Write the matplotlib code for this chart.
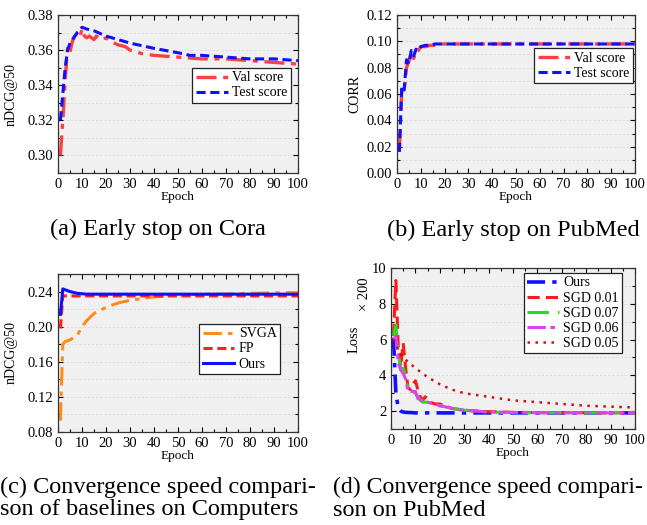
import matplotlib
matplotlib.use('Agg')
import matplotlib.pyplot as plt
from matplotlib.ticker import MultipleLocator

plt.rcParams['font.family'] = ['Liberation Serif', 'DejaVu Serif']

# (a) early stop on Cora
cora_ep = [1, 2, 3, 4, 5, 6, 7, 8, 9, 10, 11, 12, 13, 15, 16, 18, 20, 22, 25, 28, 30, 35, 40, 50, 60, 70, 80, 90, 100]
cora_val = [0.300, 0.320, 0.343, 0.362, 0.359, 0.365, 0.368, 0.369, 0.367, 0.372, 0.368, 0.367, 0.368, 0.366,
            0.368, 0.366, 0.367, 0.365, 0.363, 0.362, 0.360, 0.358, 0.357, 0.356, 0.355, 0.355, 0.354, 0.353, 0.352]
cora_test_ep = [1, 2, 3, 4, 5, 6, 7, 8, 9, 10, 12, 15, 20, 25, 30, 40, 50, 55, 60, 70, 80, 90, 100]
cora_test = [0.320, 0.335, 0.350, 0.360, 0.364, 0.366, 0.368, 0.370, 0.371, 0.373, 0.372, 0.371, 0.368,
             0.366, 0.364, 0.361, 0.3585, 0.357, 0.357, 0.356, 0.355, 0.355, 0.354]

# (b) early stop on PubMed
pub_ep = [1, 2, 3, 4, 5, 6, 7, 8, 9, 10, 12, 14, 16, 18, 20, 30, 50, 70, 100]
pub_val = [0.018, 0.062, 0.062, 0.080, 0.085, 0.091, 0.087, 0.093, 0.093, 0.096, 0.096, 0.097, 0.097,
           0.098, 0.098, 0.098, 0.098, 0.098, 0.098]
pub_test = [0.016, 0.066, 0.063, 0.086, 0.083, 0.093, 0.089, 0.094, 0.093, 0.096, 0.097, 0.097, 0.098,
            0.098, 0.098, 0.098, 0.098, 0.098, 0.098]

# (c) baselines on Computers
comp_ep = [1, 2, 3, 5, 8, 10, 12, 15, 20, 25, 30, 35, 40, 50, 60, 70, 80, 100]
svga = [0.093, 0.180, 0.183, 0.185, 0.190, 0.200, 0.207, 0.215, 0.222, 0.227, 0.230, 0.232, 0.234,
        0.236, 0.237, 0.237, 0.238, 0.239]
fp = [0.198, 0.235, 0.235, 0.235, 0.235, 0.235, 0.235, 0.235, 0.235, 0.235, 0.235, 0.235, 0.235,
      0.235, 0.235, 0.235, 0.235, 0.235]
ours_c = [0.214, 0.243, 0.242, 0.240, 0.238, 0.2375, 0.237, 0.237, 0.237, 0.237, 0.237, 0.237, 0.237,
          0.237, 0.237, 0.237, 0.237, 0.237]

# (d) loss on PubMed (x200)
ours_ep = [1, 2, 3, 4, 5, 6, 8, 10, 20, 50, 100]
ours_d = [6.1, 3.0, 2.15, 2.0, 1.95, 1.93, 1.92, 1.9, 1.9, 1.9, 1.9]
sgd_ep = [1, 2, 3, 4, 5, 6, 7, 8, 9, 10, 11, 12, 13, 14, 15, 16, 18, 20, 22, 25, 30, 40, 50, 60, 100]
sgd001 = [6.2, 9.3, 5.5, 4.5, 5.8, 4.4, 3.3, 3.2, 3.5, 3.7, 3.2, 2.8, 2.6, 2.8, 2.7, 2.5, 2.4, 2.4,
          2.3, 2.15, 2.05, 1.97, 1.93, 1.92, 1.9]
sgd007 = [6.2, 6.8, 5.2, 4.3, 4.4, 4.0, 3.2, 3.0, 3.1, 3.0, 2.8, 2.6, 2.5, 2.5, 2.5, 2.45, 2.4, 2.3,
          2.25, 2.15, 2.05, 1.95, 1.92, 1.91, 1.9]
sgd006 = [6.0, 6.2, 4.7, 4.3, 4.1, 3.8, 3.1, 3.1, 3.1, 3.1, 2.7, 2.65, 2.6, 2.55, 2.5, 2.45, 2.4, 2.3,
          2.25, 2.15, 2.05, 1.95, 1.92, 1.91, 1.9]
slow_ep = [1, 2, 3, 5, 10, 15, 20, 25, 30, 40, 50, 60, 70, 80, 90, 100]
sgd005 = [6.0, 5.8, 5.4, 5.0, 4.4, 3.9, 3.5, 3.2, 3.0, 2.8, 2.6, 2.5, 2.4, 2.3, 2.25, 2.2]

W, H = 647, 525
fig = plt.figure(figsize=(W / 100, H / 100), dpi=100)


def box(l, t, r, b):
    return [l / W, 1 - b / H, (r - l) / W, (b - t) / H]


def style(ax, ylim, ymaj, ymin):
    ax.set_facecolor('#f0f0f0')
    ax.set_xlim(0, 100)
    ax.set_ylim(*ylim)
    ax.xaxis.set_major_locator(MultipleLocator(10))
    ax.xaxis.set_minor_locator(MultipleLocator(5))
    ax.yaxis.set_major_locator(MultipleLocator(ymaj))
    ax.yaxis.set_minor_locator(MultipleLocator(ymin))
    ax.tick_params(which='both', direction='in', top=True, right=True, labelsize=10.5, width=0.8)
    ax.tick_params(which='major', length=3.5)
    ax.tick_params(which='minor', length=2)
    ax.grid(True, which='both', axis='y', color='#dadada', linestyle=(0, (3, 2)), linewidth=0.6)
    ax.set_axisbelow(True)
    for s in ax.spines.values():
        s.set_color('#333333')
        s.set_linewidth(0.9)
    ax.set_xlabel('Epoch', fontsize=9.5, labelpad=0)


def leg(ax, anchor):
    lg = ax.legend(loc='upper right', bbox_to_anchor=anchor, fontsize=10, frameon=True, fancybox=False,
                   borderaxespad=0, handlelength=2.3, labelspacing=0.15, borderpad=0.25, handletextpad=0.3)
    lg.get_frame().set_edgecolor('#222222')
    lg.get_frame().set_linewidth(0.9)
    lg.get_frame().set_alpha(1)


# (a)
ax = fig.add_axes(box(58, 15, 298, 173))
ax.plot(cora_ep, cora_val, color='#ff4040', lw=2.4, dashes=(6, 2, 1.5, 2), label='Val score')
ax.plot(cora_test_ep, cora_test, color='#1010ff', lw=2.2, dashes=(3, 1.5), label='Test score')
style(ax, (0.29, 0.38), 0.02, 0.01)
ax.yaxis.set_major_formatter(plt.FormatStrFormatter('%.2f'))
ax.set_ylabel('nDCG@50', fontsize=10)
ax.yaxis.set_label_coords(-0.17, 0.5)
leg(ax, (0.97, 0.665))

# (b)
ax = fig.add_axes(box(397, 15, 635, 173))
ax.plot(pub_ep, pub_val, color='#ff4040', lw=2.4, dashes=(6, 2, 1.5, 2), label='Val score')
ax.plot(pub_ep, pub_test, color='#1010ff', lw=2.2, dashes=(3, 1.5), label='Test score')
style(ax, (0.0, 0.12), 0.02, 0.01)
ax.yaxis.set_major_formatter(plt.FormatStrFormatter('%.2f'))
ax.set_ylabel('CORR', fontsize=10)
leg(ax, (0.99, 0.79))

# (c)
ax = fig.add_axes(box(58, 274, 298, 432))
ax.plot(comp_ep, svga, color='#ff8c1a', lw=2.2, dashes=(6, 2, 1.5, 2), label='SVGA')
ax.plot(comp_ep, fp, color='#ff2020', lw=2.2, dashes=(3, 1.5), label='FP')
ax.plot(comp_ep, ours_c, color='#1010ff', lw=2.2, label='Ours')
style(ax, (0.08, 0.26), 0.04, 0.02)
ax.yaxis.set_major_formatter(plt.FormatStrFormatter('%.2f'))
ax.set_ylabel('nDCG@50', fontsize=10)
ax.yaxis.set_label_coords(-0.17, 0.5)
leg(ax, (0.925, 0.684))

# (d)
ax = fig.add_axes(box(391, 268, 635, 429))
ax.plot(ours_ep, ours_d, color='#1010ff', lw=2.6, dashes=(5, 2, 1.2, 2), label='Ours')
ax.plot(sgd_ep, sgd001, color='#ff1a1a', lw=2.2, dashes=(4, 2), label='SGD 0.01')
ax.plot(sgd_ep, sgd007, color='#22dd22', lw=2.2, dashes=(7, 3, 1.5, 3), label='SGD 0.07')
ax.plot(sgd_ep, sgd006, color='#dd44ee', lw=2.2, dashes=(6, 1.5, 1.5, 1.5), label='SGD 0.06')
ax.plot(slow_ep, sgd005, color='#cc1111', lw=1.8, dashes=(1, 2.2), label='SGD 0.05')
style(ax, (1, 10), 2, 1)
ax.set_ylabel('Loss', fontsize=10.5)
ax.yaxis.set_label_coords(-0.125, 0.56)
ax.text(-0.108, 0.84, '× 200', transform=ax.transAxes, rotation=90, fontsize=10.5, ha='center', va='center')
leg(ax, (0.947, 0.969))

# captions
cap = 17.5
fig.text(158 / W, 1 - 229 / H, '(a) Early stop on Cora', fontsize=cap, ha='center', va='center')
fig.text(513 / W, 1 - 230 / H, '(b) Early stop on PubMed', fontsize=cap, ha='center', va='center')
fig.text(0 / W, 1 - 487 / H, '(c) Convergence speed compari-', fontsize=cap, ha='left', va='center')
fig.text(0 / W, 1 - 510 / H, 'son of baselines on Computers', fontsize=cap, ha='left', va='center')
fig.text(333 / W, 1 - 487 / H, '(d) Convergence speed compari-', fontsize=17.1, ha='left', va='center')
fig.text(333 / W, 1 - 510 / H, 'son on PubMed', fontsize=cap, ha='left', va='center')

fig.savefig('out.png', dpi=100)
